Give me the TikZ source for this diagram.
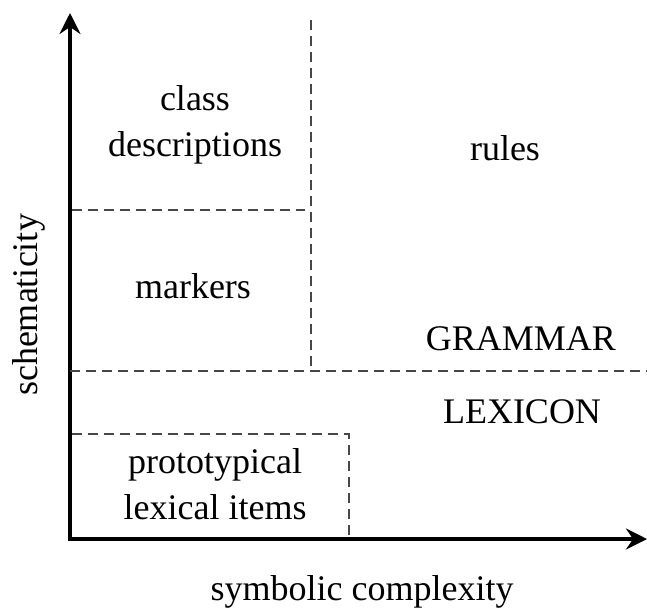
\documentclass[tikz,border=0pt]{standalone}
\usepackage{fontspec}
\setmainfont{Liberation Serif}
\usetikzlibrary{arrows.meta}

\begin{document}
\begin{tikzpicture}[x=1pt,y=-1pt,
    axis/.style={line width=3.6pt,line join=miter,{Stealth[length=21pt,width=21pt,inset=7pt]}-{Stealth[length=21pt,width=21pt,inset=7pt]}},
    divider/.style={line width=2.8pt,black!72,dash pattern=on 10pt off 6pt},
    lbl/.style={font=\fontsize{36}{46}\selectfont,align=center,inner sep=0pt}]
   \useasboundingbox (0,0) rectangle (647,610);
   % axes
   \coordinate (ytop) at (70,13);
   \coordinate (origin) at (70,539);
   \coordinate (xend) at (647,539);
   \draw[axis] (ytop) -- (origin) -- (xend);

   % grammar / lexicon split
   \coordinate (gl) at (70,371);
   \coordinate (gr) at (647,371);
   \coordinate (vtop) at (311,20);
   \coordinate (vbot) at (311,368);
   \coordinate (ml) at (72,210);
   \coordinate (mr) at (305,210);
   \draw[divider] (gl) -- (gr);
   \draw[divider] (vtop) -- (vbot);
   \draw[divider] (ml) -- (mr);

   % lexical items box
   \coordinate (bl) at (72,434);
   \coordinate (bc) at (349,434);
   \coordinate (bb) at (349,535);
   \draw[divider] (bl) -- (bc) -- (bb);

   \node[lbl] (classdesc) at (195,125) {class\\descriptions};
   \node[lbl,anchor=base] (rules) at (505,160) {rules};
   \node[lbl,anchor=base] (markers) at (193,298) {markers};
   \node[lbl,anchor=base] (grammar) at (521,350) {GRAMMAR};
   \node[lbl,anchor=base] (lexicon) at (522,423) {LEXICON};
   \node[lbl] (proto) at (215,484) {prototypical\\lexical items};
   \node[lbl,rotate=90,anchor=base] (schem) at (37,305) {schematicity};
   \node[lbl,anchor=base] (symb) at (362,600) {symbolic complexity};
\end{tikzpicture}
\end{document}
